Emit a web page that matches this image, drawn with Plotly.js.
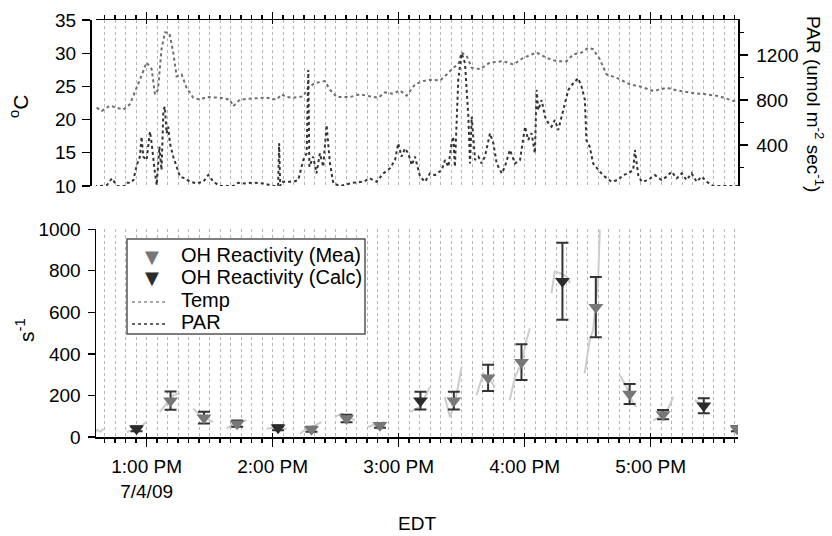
<!DOCTYPE html>
<html>
<head>
<meta charset="utf-8">
<script src="https://cdn.plot.ly/plotly-3.0.1.min.js"></script>
<style>html,body{margin:0;padding:0;background:#fff;}#chart{width:832px;height:536px;}</style>
</head>
<body>
<div id="chart"></div>
<script>
// time axis: minutes after 12:00 noon, 7/4/09 (EDT)
const hourTicks = [60, 120, 180, 240, 300];
const hourLabels = ['1:00 PM<br>7/4/09', '2:00 PM', '3:00 PM', '4:00 PM', '5:00 PM'];

// Temperature (°C)
const tempT = [36.2,38.6,42.5,48.9,52,54.4,56.8,60,62.4,64,65.4,67.1,68.7,70.8,72.7,74.3,76.7,79,82.2,85.4,88.6,94.9,99.7,101.2,104.4,110.8,117.1,121.9,124.3,126.6,129.8,134.6,136.9,140.1,144.9,147.3,150.5,156.8,161.6,166.3,170.3,173.5,177.4,180.6,183.8,187.8,191.7,194.9,199.7,202.9,206,208.4,210,212.4,214.8,218.7,223.5,229.8,234.6,239.4,245.7,250.5,255.2,260,263.1,267.1,270.2,272.6,275.8,279,283.8,290.1,294.9,301.3,307.6,312.4,320.3,326.7,333,339.4,341.7];
const tempV = [21.8,21.3,22.1,21.5,22.3,24.1,26.0,28.6,27.6,23.8,24.5,30.6,33.1,33.1,30.1,26.5,26.8,24.8,23.3,23.0,23.4,23.3,23.0,22.0,23.0,23.2,23.3,23.0,23.8,23.4,23.3,23.5,24.8,25.5,25.8,24.5,23.4,23.4,23.8,23.5,23.3,24.1,23.9,24.4,23.6,25.3,25.8,26.0,25.9,26.8,27.8,28.3,30.1,29.6,27.8,27.6,28.6,28.8,28.3,29.3,30.1,29.3,28.8,28.8,29.8,30.1,30.8,30.6,29.1,26.8,26.3,25.3,25.0,24.3,24.8,24.4,24.0,23.8,23.5,22.8,23.0];

// PAR (umol m-2 s-1)
const parT = [35,38,41.1,43.5,45.9,49.5,50.5,52.5,53.7,55.3,56.8,57.6,58.4,60,61.6,62.4,64,64.8,66.1,67.1,68,68.7,69.5,70.3,71.1,72.7,74.3,75.9,78.3,80.6,83.8,87,89.4,91.8,94.9,101.3,103.6,106.8,110.8,115.5,120.3,122.6,123.1,123.6,124.3,129.8,132.2,134.6,136.2,137,137.5,139.3,140.9,142.5,144.1,145.7,147.3,148.9,152.1,158.4,163.2,166.3,169.5,172.7,175.9,178.3,179.8,181.4,183,184.6,186.2,187.8,189.4,190.2,192.6,194.9,197.3,200.5,202.1,203.7,205.2,206,206.8,208.4,210,211.6,213.2,214,214.8,216.4,218,219.5,221.1,223.5,225.1,226.7,229.1,230.6,233,235.4,237.8,240.2,241.7,243.3,244.9,245.7,246.5,248.1,249.7,251.3,252.8,254.4,256,258.4,260.8,263.1,265.5,267.1,268.7,269.4,271,272.6,275.8,278.2,281.3,284.5,286.9,289.3,291.7,292.5,294.1,295.7,298.8,302,305.2,307.6,310,312.4,314.8,317.1,319.5,321.9,324.3,326.7,329.8,341.7];
const parV = [36,36,44,104,36,36,65,65,89,222,296,474,296,267,519,415,148,44,385,178,711,741,504,563,415,296,207,119,104,74,59,74,134,74,36,36,65,59,65,59,36,36,415,36,74,74,89,267,326,1067,207,296,148,326,207,578,237,59,36,65,74,104,74,148,193,267,415,296,370,326,222,296,178,119,74,148,133,178,267,207,415,474,207,978,1215,1126,652,237,652,267,296,237,296,504,415,237,148,207,356,237,267,563,444,504,326,889,711,800,652,593,563,622,533,711,889,948,993,919,800,444,385,237,163,119,74,89,133,148,178,356,133,74,89,133,89,119,163,104,148,89,148,74,119,74,36,36];

// OH reactivity, measured (s-1)
const meaT = [71.4,87.3,103.1,138.5,155.2,171.1,206.3,222.6,238.5,273.9,290.0,305.9,341.1];
const meaV = [175,93,64,37,89,56,175,285,360,625,207,108,40];
const meaErr = [44,28,15,12,18,12,43,63,86,145,48,22,12];

// OH reactivity, calculated (s-1)
const calcT = [55.2,122.6,190.4,258.0,325.3];
const calcV = [40,45,175,750,150];
const calcErr = [12,12,43,185,36];

// raw measured reactivity traces (segments separated by null)
const rawT = [35,36.5,38,39.5,null,50.5,53.6,56.8,60,null,66.3,69.5,72.7,75.9,null,82.2,85.4,88.6,91.7,null,98.1,101.2,104.4,107.6,null,117.1,121.9,126.6,null,133,136.2,140.1,143.3,null,149.6,152.8,156,159.2,null,165.5,169.5,173.4,null,185.3,190.2,194.9,null,202,204.4,206.8,210,null,217.1,220.3,223.5,225.9,null,232.9,235.4,238.5,240.9,242.5,null,252.8,254.4,256.8,260,261.6,null,268.6,271,272.6,275,275.8,null,285.3,288.5,291.7,293.2,null,301.3,304.4,307.6,310.8,null,321,324.2,327.3,null,339.2,341.6,342.5];
const rawV = [15,35,25,40,null,24,32,48,72,null,121,161,201,209,null,137,105,89,72,null,40,64,72,80,null,40,48,40,null,16,40,56,72,null,97,113,97,80,null,48,64,72,null,121,145,241,null,193,97,161,338,null,201,306,274,241,null,177,290,354,467,523,null,692,797,789,773,741,null,306,467,515,757,998,null,298,241,161,145,null,80,97,121,193,null,177,161,145,null,24,48,72];

const tempTicks = [10,15,20,25,30,35];
const parTicks = [400,800,1200];
const parMinorTicks = [200,600,1000,1400];
const reactTicks = [0,200,400,600,800,1000];

// legend entries (text, kind, colour)
const legendNames = ['OH Reactivity (Mea)', 'OH Reactivity (Calc)', 'Temp', 'PAR'];
const legendKinds = ['marker', 'marker', 'line', 'line'];
const legendColors = ['#777777', '#2b2b2b', '#8a8a8a', '#333333'];

const FONT = 'Liberation Sans, Arial, Helvetica, sans-serif';
const xRange = [35.9, 341.6];
const xDom = [6/648, 1];
const gridCol = '#b4b4b4';

const traces = [
  {x: rawT, y: rawV, xaxis: 'x', yaxis: 'y', mode: 'lines', line: {color: '#cdcdcd', width: 2}, showlegend: false, hoverinfo: 'skip', connectgaps: false},
  {x: meaT, y: meaV, xaxis: 'x', yaxis: 'y', mode: 'markers', name: legendNames[0],
   marker: {symbol: 'triangle-down', size: 13, color: legendColors[0]},
   error_y: {type: 'data', array: meaErr, color: '#333333', thickness: 2, width: 6}},
  {x: calcT, y: calcV, xaxis: 'x', yaxis: 'y', mode: 'markers', name: legendNames[1],
   marker: {symbol: 'triangle-down', size: 13, color: legendColors[1]},
   error_y: {type: 'data', array: calcErr, color: '#333333', thickness: 2, width: 6}},
  {x: tempT, y: tempV, xaxis: 'x2', yaxis: 'y2', mode: 'lines', name: legendNames[2],
   line: {color: '#6e6e6e', width: 2, dash: 'dot'}},
  {x: parT, y: parV, xaxis: 'x2', yaxis: 'y3', mode: 'lines', name: legendNames[3],
   line: {color: legendColors[3], width: 2, dash: 'dot'}},
  {x: [], y: [], xaxis: 'x3', yaxis: 'y', showlegend: false},
  {x: [], y: [], xaxis: 'x4', yaxis: 'y2', showlegend: false}
];

const tickFont = {family: FONT, size: 19, color: '#000'};
const minorTicks = {tick0: 0, dtick: 5, ticklen: 4, tickcolor: '#000', showgrid: true, gridcolor: gridCol, griddash: 'dot', gridwidth: 1};

function px2paperX(px) { return (px - 90) / 648; }
function px2paperY(py) { return (437 - py) / 417; }

const annotations = [
  {text: '<sup>o</sup>C', xref: 'paper', yref: 'paper', x: px2paperX(19), y: px2paperY(107), textangle: -90,
   showarrow: false, font: {family: FONT, size: 21, color: '#000'}, xanchor: 'center', yanchor: 'middle'},
  {text: 's<sup>-1</sup>', xref: 'paper', yref: 'paper', x: px2paperX(25), y: px2paperY(330), textangle: -90,
   showarrow: false, font: {family: FONT, size: 21, color: '#000'}, xanchor: 'center', yanchor: 'middle'},
  {text: 'PAR (umol m<sup>-2</sup> sec<sup>-1</sup>)', xref: 'paper', yref: 'paper', x: px2paperX(815), y: px2paperY(104), textangle: 90,
   showarrow: false, font: {family: FONT, size: 19, color: '#000'}, xanchor: 'center', yanchor: 'middle'},
  {text: 'EDT', xref: 'paper', yref: 'paper', x: px2paperX(417), y: px2paperY(523),
   showarrow: false, font: {family: FONT, size: 19, color: '#000'}, xanchor: 'center', yanchor: 'middle'}
];
const shapes = [
  {type: 'rect', xref: 'paper', yref: 'paper', x0: px2paperX(127), x1: px2paperX(365), y0: px2paperY(239), y1: px2paperY(334),
   line: {color: '#555', width: 1.5}, fillcolor: '#fff', layer: 'above'}
];
const rowY = [255, 277, 300, 322];
legendNames.forEach((nm, i) => {
  annotations.push({text: nm, xref: 'paper', yref: 'paper', x: px2paperX(179), y: px2paperY(rowY[i]),
    showarrow: false, xanchor: 'left', yanchor: 'middle', font: {family: FONT, size: 20, color: '#000'}});
  if (legendKinds[i] === 'marker') {
    annotations.push({text: '\u25BC', xref: 'paper', yref: 'paper', x: px2paperX(152), y: px2paperY(rowY[i] + 1),
      showarrow: false, xanchor: 'center', yanchor: 'middle', font: {family: 'DejaVu Sans', size: 18, color: legendColors[i]}});
  } else {
    shapes.push({type: 'line', xref: 'paper', yref: 'paper', x0: px2paperX(132), x1: px2paperX(168),
      y0: px2paperY(rowY[i] + 2), y1: px2paperY(rowY[i] + 2), line: {color: legendColors[i], width: 1.5, dash: 'dot'}, layer: 'above'});
  }
});

const layout = {
  width: 832, height: 536,
  margin: {l: 90, r: 94, t: 20, b: 99},
  paper_bgcolor: '#fff', plot_bgcolor: 'rgba(0,0,0,0)',
  font: {family: FONT, size: 19, color: '#000'},
  showlegend: false,
  xaxis: {domain: xDom, anchor: 'y', range: xRange, tickmode: 'array', tickvals: hourTicks, ticktext: hourLabels,
    ticks: 'outside', ticklen: 8, tickwidth: 1.3, tickcolor: '#000', tickfont: tickFont, ticklabelstandoff: 4,
    showline: true, linecolor: '#000', linewidth: 1.5, zeroline: false,
    showgrid: true, gridcolor: gridCol, griddash: 'dot', gridwidth: 1, minor: minorTicks},
  xaxis3: {domain: xDom, anchor: 'y', overlaying: 'x', range: xRange, tickmode: 'array', tickvals: hourTicks,
    ticks: 'inside', ticklen: 4, tickwidth: 1.3, tickcolor: '#000', showticklabels: false,
    showline: false, zeroline: false, showgrid: false,
    minor: {tick0: 0, dtick: 5, ticklen: 3, tickcolor: '#000', showgrid: false}},
  xaxis2: {domain: xDom, anchor: 'y2', side: 'top', range: xRange, tickmode: 'array', tickvals: hourTicks,
    ticks: 'outside', ticklen: 7, tickwidth: 1.3, tickcolor: '#000', showticklabels: false,
    showline: true, linecolor: '#000', linewidth: 1.5, zeroline: false,
    showgrid: true, gridcolor: gridCol, griddash: 'dot', gridwidth: 1, minor: minorTicks},
  xaxis4: {domain: xDom, anchor: 'y2', side: 'top', overlaying: 'x2', range: xRange, tickmode: 'array', tickvals: hourTicks,
    ticks: 'inside', ticklen: 4, tickwidth: 1.3, tickcolor: '#000', showticklabels: false,
    showline: false, zeroline: false, showgrid: false,
    minor: {tick0: 0, dtick: 5, ticklen: 3, tickcolor: '#000', showgrid: false}},
  yaxis: {domain: [0, px2paperY(229.3)], anchor: 'x', range: [0, 1000], tickmode: 'array', tickvals: reactTicks,
    ticks: 'outside', ticklen: 7, tickwidth: 1.3, tickcolor: '#000', tickfont: tickFont, ticklabelstandoff: 3,
    showline: true, linecolor: '#000', linewidth: 1.5, zeroline: false, showgrid: false},
  yaxis2: {domain: [px2paperY(186), 1], anchor: 'free', position: 0, range: [10, 35], tickmode: 'array', tickvals: tempTicks,
    ticks: 'outside', ticklen: 8, tickwidth: 1.3, tickcolor: '#000', tickfont: tickFont, ticklabelstandoff: 2,
    showline: true, linecolor: '#000', linewidth: 1.5, zeroline: false, showgrid: false},
  yaxis3: {overlaying: 'y2', side: 'right', anchor: 'x2', range: [36, 1510], tickmode: 'array', tickvals: parTicks,
    ticks: 'outside', ticklen: 8, tickwidth: 1.3, tickcolor: '#000', tickfont: tickFont, ticklabelstandoff: 5,
    showline: true, linecolor: '#000', linewidth: 1.5, zeroline: false, showgrid: false,
    minor: {tickmode: 'array', tickvals: parMinorTicks, ticklen: 4, tickcolor: '#000', showgrid: false}},
  annotations: annotations,
  shapes: shapes
};

Plotly.newPlot('chart', traces, layout, {displayModeBar: false, staticPlot: true});
</script>
</body>
</html>
